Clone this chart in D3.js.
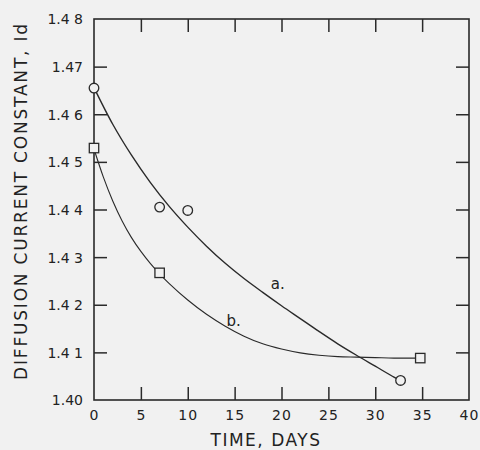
<!DOCTYPE html>
<html>
<head>
<meta charset="utf-8">
<script src="https://cdn.jsdelivr.net/npm/d3@7"></script>
<style>
  body { margin: 0; background: #f1f1f1; }
  svg { display: block; }
  text { font-family: "DejaVu Sans", sans-serif; fill: #222; }
</style>
</head>
<body>
<script>
// measured points
var daysA = [0, 7, 10, 32.7];
var valuesA = [1.4655, 1.4405, 1.4398, 1.4041];
var daysB = [0, 7, 34.8];
var valuesB = [1.4529, 1.4267, 1.4088];

// smooth curves drawn through the data
var curveDaysA = [0, 2, 4, 6, 8, 10, 12, 14, 16, 18, 20, 22, 24, 26, 28, 30, 32, 32.3];
var curveValsA = [1.4656, 1.4579, 1.4514, 1.4457, 1.4407, 1.4363, 1.4323, 1.4287, 1.4255, 1.4226, 1.4198, 1.4171, 1.4144, 1.4118, 1.4094, 1.4071, 1.4048, 1.4045];
var curveDaysB = [0, 1, 2, 3, 4, 5, 6, 7, 8, 10, 12, 14, 16, 18, 20, 22, 24, 26, 28, 30, 32, 34.3];
var curveValsB = [1.4527, 1.4468, 1.4418, 1.4376, 1.4341, 1.4312, 1.4287, 1.4265, 1.4245, 1.4210, 1.4180, 1.4155, 1.4134, 1.4118, 1.4107, 1.4099, 1.4094, 1.4091, 1.4090, 1.4089, 1.4088, 1.4088];

var xTicks = [0, 5, 10, 15, 20, 25, 30, 35, 40];
var yTicks = [1.40, 1.41, 1.42, 1.43, 1.44, 1.45, 1.46, 1.47, 1.48];
var yTickLabels = ["1.40", "1.4 1", "1.4 2", "1.4 3", "1.4 4", "1.4 5", "1.4 6", "1.47", "1.4 8"];
var curveLabels = [{t: "a.", day: 19.6, val: 1.4245}, {t: "b.", day: 14.9, val: 1.4166}];

var width = 480, height = 450;
var margins = {top: 19, left: 94, right: 11, bottom: 50};

var svg = d3.select("body").append("svg")
  .attr("width", width)
  .attr("height", height);

var xScale = d3.scaleLinear().domain([0, 40]).range([margins.left, width - margins.right]);
var yScale = d3.scaleLinear().domain([1.40, 1.48]).range([height - margins.bottom, margins.top]);

var ink = "#2a2a2a";
var tickLen = 13;

// frame
svg.append("rect")
  .attr("x", xScale(0)).attr("y", yScale(1.48))
  .attr("width", xScale(40) - xScale(0))
  .attr("height", yScale(1.40) - yScale(1.48))
  .attr("fill", "none").attr("stroke", ink).attr("stroke-width", 1.6);

// inward ticks on all four sides
var xAxisB = d3.axisBottom(xScale).tickValues(xTicks).tickSize(-tickLen).tickPadding(10).tickFormat(d3.format("d"));
var xAxisT = d3.axisTop(xScale).tickValues(xTicks).tickSize(-tickLen).tickFormat("");
var yAxisL = d3.axisLeft(yScale).tickValues(yTicks).tickSize(-tickLen).tickPadding(11)
  .tickFormat(function(d, i) { return yTickLabels[i]; });
var yAxisR = d3.axisRight(yScale).tickValues(yTicks).tickSize(-tickLen).tickFormat("");

function styleAxis(g) {
  g.select(".domain").remove();
  g.selectAll(".tick line").attr("stroke", ink).attr("stroke-width", 1.5);
  g.selectAll(".tick text").attr("fill", ink).style("font-family", "DejaVu Sans, sans-serif");
}

svg.append("g").attr("transform", "translate(0," + yScale(1.40) + ")").call(xAxisB).call(styleAxis)
  .selectAll(".tick text").style("font-size", "14px").style("letter-spacing", "1px");
svg.append("g").attr("transform", "translate(0," + yScale(1.48) + ")").call(xAxisT).call(styleAxis);
svg.append("g").attr("transform", "translate(" + xScale(0) + ",0)").call(yAxisL).call(styleAxis)
  .selectAll(".tick text").style("font-size", "14px").attr("dy", "0.35em");
svg.append("g").attr("transform", "translate(" + xScale(40) + ",0)").call(yAxisR).call(styleAxis);

// hide tick marks at the corners (they fall on the frame)
svg.selectAll(".tick line").filter(function(d) { return d === 0 || d === 40 || d === 1.40 || d === 1.48; }).remove();

// curves
var line = d3.line()
  .x(function(d) { return xScale(d[0]); })
  .y(function(d) { return yScale(d[1]); })
  .curve(d3.curveCatmullRom);

svg.append("path")
  .datum(d3.zip(curveDaysA, curveValsA))
  .attr("d", line).attr("fill", "none").attr("stroke", ink).attr("stroke-width", 1.4);
svg.append("path")
  .datum(d3.zip(curveDaysB, curveValsB))
  .attr("d", line).attr("fill", "none").attr("stroke", ink).attr("stroke-width", 1.1);

// markers
svg.selectAll("circle.pt").data(d3.zip(daysA, valuesA)).enter().append("circle")
  .attr("class", "pt")
  .attr("cx", function(d) { return xScale(d[0]); })
  .attr("cy", function(d) { return yScale(d[1]); })
  .attr("r", 4.8)
  .attr("fill", "#f1f1f1").attr("stroke", ink).attr("stroke-width", 1.3);

svg.selectAll("rect.pt").data(d3.zip(daysB, valuesB)).enter().append("rect")
  .attr("class", "pt")
  .attr("x", function(d) { return xScale(d[0]) - 4.7; })
  .attr("y", function(d) { return yScale(d[1]) - 4.7; })
  .attr("width", 9.4).attr("height", 9.4)
  .attr("fill", "#f1f1f1").attr("stroke", ink).attr("stroke-width", 1.3);

// curve labels
svg.selectAll("text.lbl").data(curveLabels).enter().append("text")
  .attr("class", "lbl")
  .attr("x", function(d) { return xScale(d.day); })
  .attr("y", function(d) { return yScale(d.val); })
  .attr("text-anchor", "middle")
  .attr("dy", "0.35em")
  .style("font-size", "15px")
  .text(function(d) { return d.t; });

// axis titles
svg.append("text")
  .attr("x", 266).attr("y", 446)
  .attr("text-anchor", "middle")
  .style("font-size", "17px").style("letter-spacing", "1.5px")
  .text("TIME, DAYS");

svg.append("text")
  .attr("transform", "translate(27," + 201 + ") rotate(-90)")
  .attr("text-anchor", "middle")
  .style("font-size", "17px").style("letter-spacing", "1.8px")
  .text("DIFFUSION  CURRENT  CONSTANT,  Id");
</script>
</body>
</html>
